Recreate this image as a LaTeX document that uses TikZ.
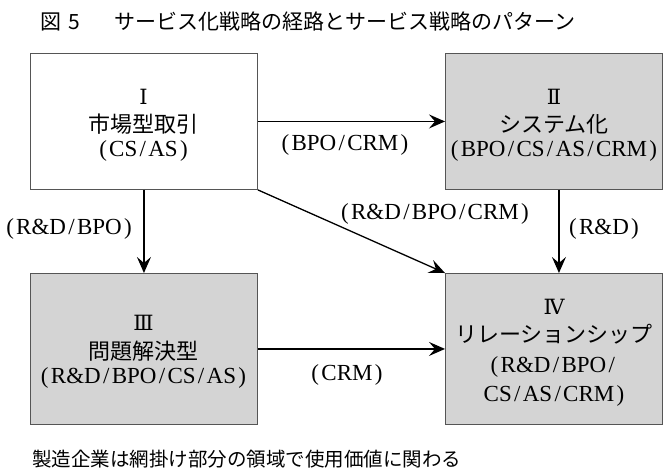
\documentclass[tikz,border=0pt]{standalone}
\usepackage{fontspec}
\setmainfont{Liberation Serif}
\newfontfamily\jp{Noto Sans CJK JP}
\newfontfamily\rn{DejaVu Serif}
\usetikzlibrary{arrows.meta}
\definecolor{boxgray}{HTML}{D4D4D4}
\definecolor{edgegray}{HTML}{555555}
\newcommand\LP{(\kern.1em}
\newcommand\RP{\kern.1em)}
\newcommand\SL{\kern.1em/\kern.1em}
\begin{document}
\begin{tikzpicture}[x=1pt,y=-1pt,
  box/.style={draw=edgegray, line width=0.9pt, anchor=north west, inner sep=0pt},
  plainbox/.style={box, fill=white},
  shadebox/.style={box, fill=boxgray},
  numtxt/.style={font=\rn\fontsize{21}{24}\selectfont, inner sep=0pt},
  jptxt/.style={font=\jp\fontsize{22}{24}\selectfont, inner sep=0pt},
  lbl/.style={font=\fontsize{23}{25}\selectfont, inner sep=0pt},
  arr/.style={line width=1.3pt, -{Stealth[length=16pt,width=14pt,inset=6pt]}}]
\useasboundingbox (0,0) rectangle (663,469);
\node[font=\jp\fontsize{21}{24}\selectfont, anchor=west, inner sep=0pt] (title) at (40,21) {図\kern7pt 5\kern14pt　サービス化戦略の経路とサービス戦略のパターン};
% boxes
\node[plainbox, minimum width=227pt, minimum height=136pt] (b1) at (30,53) {};
\node[shadebox, minimum width=217pt, minimum height=136pt] (b2) at (445,53) {};
\node[shadebox, minimum width=227pt, minimum height=151pt] (b3) at (30,273) {};
\node[shadebox, minimum width=217pt, minimum height=151pt] (b4) at (445,273) {};
% box texts
\node[numtxt] (n1) at (143.5,97) {Ⅰ};
\node[jptxt] (j1) at (143.5,124) {市場型取引};
\node[lbl] (c1) at (143.5,151) {\LP CS\SL AS\RP};
\node[numtxt] (n2) at (554,97) {Ⅱ};
\node[jptxt] (j2) at (554,124) {システム化};
\node[lbl] (c2) at (554,151) {\LP BPO\SL CS\SL AS\SL CRM\RP};
\node[numtxt] (n3) at (143.5,323) {Ⅲ};
\node[jptxt] (j3) at (143.5,351) {問題解決型};
\node[lbl] (c3) at (143.5,378) {\LP R\&D\SL BPO\SL CS\SL AS\RP};
\node[numtxt] (n4) at (554,307) {Ⅳ};
\node[jptxt] (j4) at (554,334) {リレーションシップ};
\node[lbl] (c4a) at (554,367) {\LP R\&D\SL BPO\SL};
\node[lbl] (c4b) at (554,396) {CS\SL AS\SL CRM\RP};
% connectors
\draw[arr] (b1.east) -- (b2.west);
\draw[arr] (b1.south) -- (b3.north);
\draw[arr] (b1.south east) -- (b4.north west);
\draw[arr] ([xshift=5pt]b2.south) -- ([xshift=5pt]b4.north);
\draw[arr] (b3.east) -- (b4.west);
% connector labels
\node[lbl] (l12) at (345,145) {\LP BPO\SL CRM\RP};
\node[lbl] (l13) at (69,229) {\LP R\&D\SL BPO\RP};
\node[lbl] (l14) at (435,214) {\LP R\&D\SL BPO\SL CRM\RP};
\node[lbl] (l24) at (604,229) {\LP R\&D\RP};
\node[lbl] (l34) at (347,375) {\LP CRM\RP};
\node[font=\jp\fontsize{19.5}{22}\selectfont, anchor=west, inner sep=0pt] (foot) at (32,459) {製造企業は網掛け部分の領域で使用価値に関わる};
\end{tikzpicture}
\end{document}
